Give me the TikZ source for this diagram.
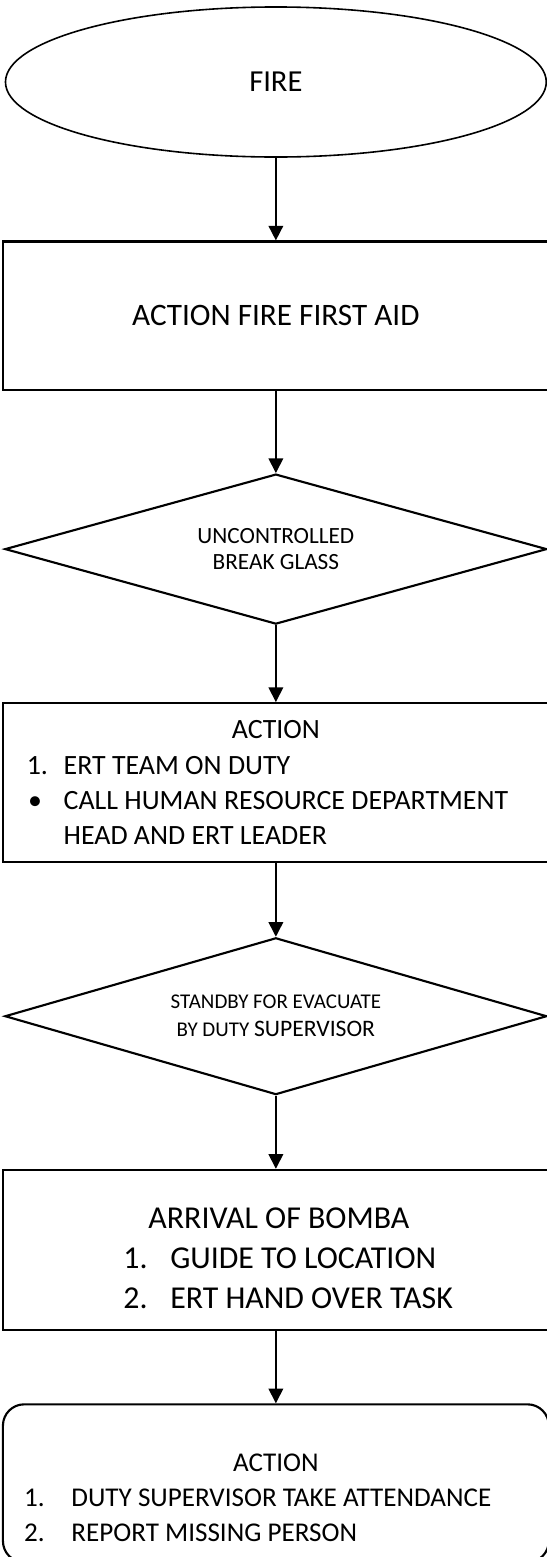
\documentclass[tikz,border=0pt]{standalone}
\usepackage{fontspec}
\setmainfont{Carlito}
\usetikzlibrary{shapes.geometric, arrows.meta}
\tikzstyle{startstop}=[draw,ellipse,line width=1.2pt,minimum width=14.31cm,minimum height=3.97cm,font=\fontsize{23}{28}\selectfont]
\tikzstyle{process}=[rectangle,draw,line width=1.6pt,minimum width=14.45cm,minimum height=3.92cm,font=\fontsize{23.5}{28}\selectfont]
\tikzstyle{decision}=[diamond,draw,line width=1.6pt,aspect=3.6,minimum width=14.34cm,minimum height=3.97cm,inner sep=0pt,align=flush center]
\tikzstyle{actionbox}=[rectangle,draw,line width=1.6pt,inner xsep=18pt,text width=13.18cm,align=flush left]
\tikzstyle{endbox}=[actionbox,rounded corners=16pt,inner xsep=16pt,text width=13.32cm]
\tikzstyle{arrow}=[draw,line width=1.2pt,-{Triangle[length=11pt,width=11pt]}]

\begin{document}
\begin{tikzpicture}[node distance=6.18cm]

		\clip (-7.30,2.17) rectangle (7.17,-39.03);

		\node (fire) [startstop] {FIRE};
		\node (aid) [process, below of=fire] {ACTION FIRE FIRST AID};
		\node (glass) [decision, below of=aid, font=\fontsize{17.5}{20}\selectfont] {UNCONTROLLED\\BREAK GLASS};
		\node (ert) [actionbox, below of=glass, minimum height=4.21cm, font=\fontsize{21}{26.5}\selectfont] {\makebox[\hsize]{ACTION}\\ \makebox[27.75pt][l]{1.}ERT TEAM ON DUTY\\ \makebox[27.75pt][l]{\hspace{1pt}\textbullet}CALL HUMAN RESOURCE DEPARTMENT\\ \hspace*{27.75pt}HEAD AND ERT LEADER};
		\node (standby) [decision, below of=ert, minimum height=4.15cm, font=\fontsize{15.8}{21}\selectfont] {STANDBY FOR EVACUATE\\BY DUTY {\fontsize{17.8}{21}\selectfont SUPERVISOR}};
		\node (bomba) [actionbox, below of=standby, minimum height=4.23cm, font=\fontsize{24}{30}\selectfont] {\makebox[\hsize]{\rule{0pt}{28.5pt}\hspace{4.5pt}ARRIVAL OF BOMBA}\\ \hspace*{72.75pt}\makebox[35.25pt][l]{1.}GUIDE TO LOCATION\\ \hspace*{72.75pt}\makebox[35.25pt][l]{2.}ERT HAND OVER TASK};
		\node (report) [endbox, below of=bomba, minimum height=4.18cm, font=\fontsize{20.4}{26.6}\selectfont] {\makebox[\hsize]{\rule{0pt}{35pt}ACTION}\\ \makebox[35.6pt][l]{1.}DUTY SUPERVISOR TAKE ATTENDANCE\\ \makebox[35.6pt][l]{2.}REPORT MISSING PERSON};

		\draw[arrow] (fire) -- (aid);
		\draw[arrow] (aid) -- (glass);
		\draw[arrow] (glass) -- (ert);
		\draw[arrow] (ert) -- (standby);
		\draw[arrow] (standby) -- (bomba);
		\draw[arrow] (bomba) -- (report);

\end{tikzpicture}
\end{document}
